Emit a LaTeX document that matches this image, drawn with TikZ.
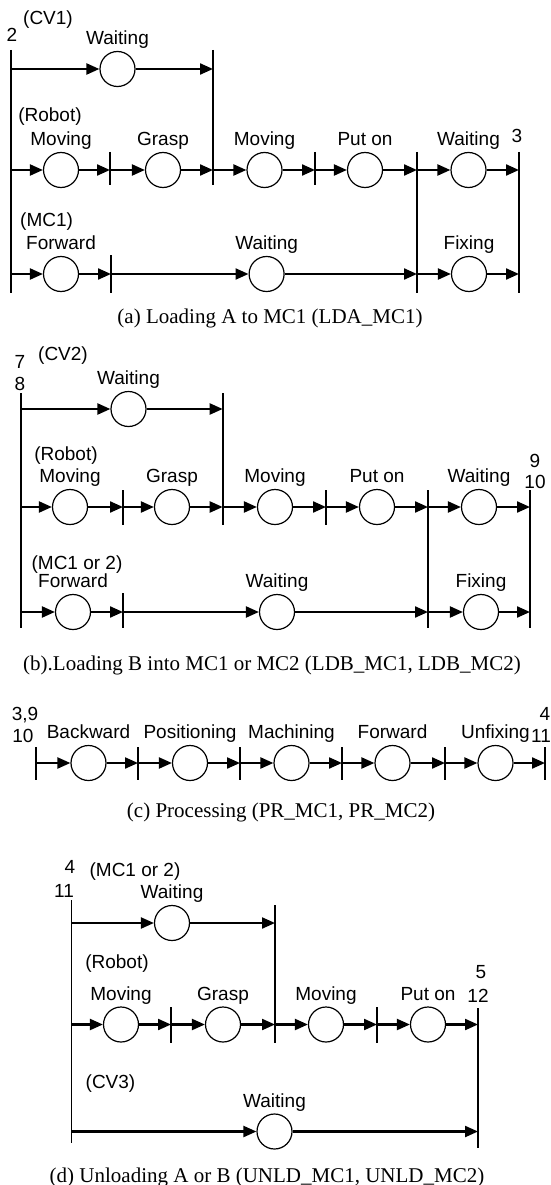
\documentclass[tikz,border=0pt]{standalone}
\usepackage{fontspec}
\setmainfont{Liberation Serif}
\newfontfamily\labelsans{Liberation Sans}
\usetikzlibrary{arrows.meta}

\begin{document}
\begin{tikzpicture}[x=1pt, y=-1pt,
  place/.style={circle, draw, line width=1.2pt, minimum size=35pt, inner sep=0pt},
  flow/.style={line width=2.2pt, -{Triangle[length=13pt,width=11pt]}},
  bar/.style={line width=1.6pt},
  lbl/.style={font=\labelsans\fontsize{19}{19}\selectfont, inner sep=0pt, text height=14pt, text depth=4pt},
  captext/.style={font=\fontsize{21}{21}\selectfont, inner sep=0pt},
  label distance=2pt]
\useasboundingbox (0,0) rectangle (550,1185);

% (a) loading A
\draw[bar] (11,50) -- (11,293);
\draw[bar] (213,50) -- (213,185);
\foreach \x in {110,315} \draw[bar] (\x,152) -- (\x,185);
\foreach \x in {417,519} \draw[bar] (\x,152) -- (\x,293);
\draw[bar] (111,255) -- (111,293);
\foreach \xa/\xc/\xb/\y/\nm/\txt in {
  11/117.5/213/69/acv/Waiting,
  11/61/110/170/ar1/Moving, 110/163/213/170/ar2/Grasp, 213/264.5/315/170/ar3/Moving,
  315/365/417/170/ar4/Put on, 417/468.5/519/170/ar5/Waiting,
  11/61/111/274/am1/Forward, 111/266.6/417/274/am2/Waiting, 417/469/519/274/am3/Fixing}
{
  \coordinate (\nm-in) at (\xa,\y);
  \coordinate (\nm-out) at (\xb,\y);
  \node[place, label={[lbl]above:\txt}] (\nm) at (\xc,\y) {};
  \draw[flow] (\nm-in) -- (\nm);
  \draw[flow] (\nm) -- (\nm-out);
}
\node[lbl] (a-cv1) at (48,20) {(CV1)};
\node[lbl] (a-start) at (12,37) {2};
\node[lbl] (a-robot) at (50,117) {(Robot)};
\node[lbl] (a-end) at (517,138) {3};
\node[lbl] (a-mc1) at (46.6,221) {(MC1)};
\node[captext] (a-cap) at (270,318) {(a) Loading A to MC1 (LDA\_MC1)};

% (b) loading B
\draw[bar] (20.7,393) -- (20.7,628);
\draw[bar] (222.7,393) -- (222.7,524.5);
\foreach \x in {123,326} \draw[bar] (\x,490) -- (\x,524.5);
\foreach \x in {428,530} \draw[bar] (\x,490) -- (\x,628);
\draw[bar] (123,593) -- (123,628);
\foreach \xa/\xc/\xb/\y/\nm/\txt in {
  20.7/128.5/222.7/409/bcv/Waiting,
  20.7/70/123/507/br1/Moving, 123/172/222.7/507/br2/Grasp, 222.7/275/326/507/br3/Moving,
  326/377/428/507/br4/Put on, 428/479/530/507/br5/Waiting,
  20.7/73/123/612/bm1/Forward, 123/277/428/612/bm2/Waiting, 428/481/530/612/bm3/Fixing}
{
  \coordinate (\nm-in) at (\xa,\y);
  \coordinate (\nm-out) at (\xb,\y);
  \node[place, label={[lbl]above:\txt}] (\nm) at (\xc,\y) {};
  \draw[flow] (\nm-in) -- (\nm);
  \draw[flow] (\nm) -- (\nm-out);
}
\node[lbl] (b-start1) at (20,363) {7};
\node[lbl] (b-cv2) at (63,355) {(CV2)};
\node[lbl] (b-start2) at (20,385) {8};
\node[lbl] (b-robot) at (66,455) {(Robot)};
\node[lbl] (b-end1) at (535,462) {9};
\node[lbl] (b-end2) at (535,483) {10};
\node[lbl] (b-mc) at (77,564) {(MC1 or 2)};
\node[captext] (b-cap) at (272,665) {(b).Loading B into MC1 or MC2 (LDB\_MC1, LDB\_MC2)};

% (c) processing
\foreach \x in {36,138,240,342,445,545} \draw[bar] (\x,747) -- (\x,780);
\foreach \xa/\xc/\xb/\y/\nm/\txt in {
  36/88.5/138/763/cp1/Backward, 138/190/240/763/cp2/Positioning,
  240/291.5/342/763/cp3/Machining, 342/392.5/445/763/cp4/Forward,
  445/495.5/545/763/cp5/Unfixing}
{
  \coordinate (\nm-in) at (\xa,\y);
  \coordinate (\nm-out) at (\xb,\y);
  \node[place, label={[lbl]above:\txt}] (\nm) at (\xc,\y) {};
  \draw[flow] (\nm-in) -- (\nm);
  \draw[flow] (\nm) -- (\nm-out);
}
\node[lbl] (c-start1) at (25,715) {3,9};
\node[lbl] (c-start2) at (23,737) {10};
\node[lbl] (c-end1) at (545,715) {4};
\node[lbl] (c-end2) at (541,737) {11};
\node[captext] (c-cap) at (281,812) {(c) Processing (PR\_MC1, PR\_MC2)};

% (d) unloading
\draw[bar] (71.5,900) -- (71.5,1143);
\draw[bar] (275,905) -- (275,1043);
\foreach \x in {171,377} \draw[bar] (\x,1007) -- (\x,1043);
\draw[bar] (478,1008) -- (478,1148);
\foreach \xa/\xc/\xb/\y/\nm/\txt in {
  71.5/172/275/923/dmc/Waiting,
  71.5/121/171/1024.5/dr1/Moving, 171/223/275/1024.5/dr2/Grasp,
  275/326/377/1024.5/dr3/Moving, 377/428/478/1024.5/dr4/Put on,
  71.5/274.5/478/1131.5/dcv/Waiting}
{
  \coordinate (\nm-in) at (\xa,\y);
  \coordinate (\nm-out) at (\xb,\y);
  \node[place, label={[lbl]above:\txt}] (\nm) at (\xc,\y) {};
  \draw[flow] (\nm-in) -- (\nm);
  \draw[flow] (\nm) -- (\nm-out);
}
\node[lbl] (d-start1) at (70,868) {4};
\node[lbl] (d-mc) at (135,871) {(MC1 or 2)};
\node[lbl] (d-start2) at (64,892) {11};
\node[lbl] (d-robot) at (117,963) {(Robot)};
\node[lbl] (d-end1) at (481,973) {5};
\node[lbl] (d-end2) at (478,997.5) {12};
\node[lbl] (d-cv3) at (110.5,1083.5) {(CV3)};
\node[captext] (d-cap) at (267,1177) {(d) Unloading A or B (UNLD\_MC1, UNLD\_MC2)};

\end{tikzpicture}
\end{document}
